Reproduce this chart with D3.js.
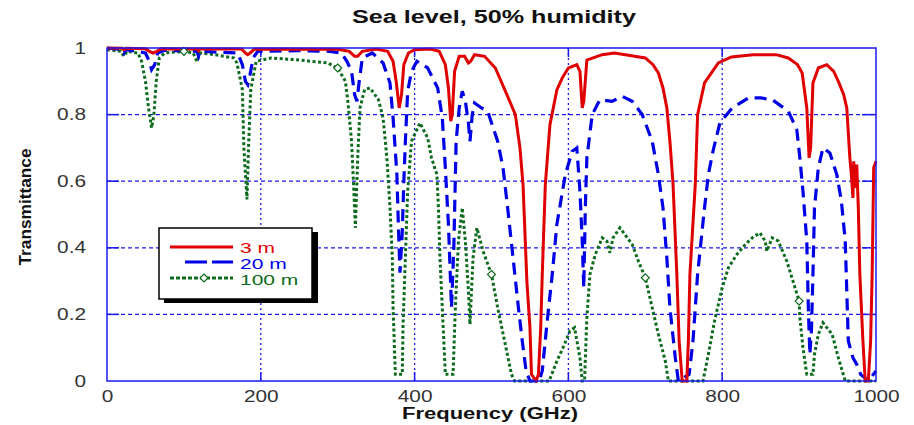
<!DOCTYPE html>
<html>
<head>
<meta charset="utf-8">
<script src="https://cdn.jsdelivr.net/npm/d3@7"></script>
<style>
  body { margin: 0; background: #fff; }
  text { font-family: "Liberation Sans", Arial, sans-serif; }
</style>
</head>
<body>
<svg id="chart" width="914" height="425"></svg>
<script>
// Atmospheric transmittance vs frequency, [GHz, transmittance] per path length
const path3m = [
  [0,1.0],[20,0.999],[22,0.995],[25,0.999],[50,0.998],[55,0.99],[60,0.985],[65,0.99],[70,0.998],
  [118,0.997],[119,0.992],[121,0.997],[175,0.997],[180,0.985],[183,0.98],[186,0.985],[192,0.997],
  [300,0.996],[315,0.99],[322,0.975],[326,0.975],[332,0.99],[350,0.997],[365,0.99],[372,0.96],
  [376,0.9],[380,0.82],[383,0.86],[386,0.95],[392,0.985],[400,0.995],[420,0.997],[432,0.99],
  [440,0.95],[444,0.88],[447,0.78],[449,0.8],[452,0.93],[458,0.975],[465,0.975],[470,0.955],
  [473,0.96],[478,0.98],[491,0.975],[505,0.94],[520,0.86],[531,0.80],[537,0.70],[541,0.59],
  [546,0.30],[550,0.16],[552,0.02],[558,0.0],[561,0.02],[564,0.16],[566,0.32],[570,0.59],
  [576,0.77],[585,0.874],[592,0.91],[600,0.94],[611,0.95],[615,0.93],[618,0.82],[620,0.84],
  [624,0.964],[644,0.98],[660,0.985],[700,0.97],[710,0.95],[717,0.925],[723,0.88],[728,0.82],
  [732,0.72],[736,0.595],[741,0.32],[744,0.12],[748,0.0],[754,0.0],[756,0.12],[758,0.32],
  [765,0.59],[768,0.80],[777,0.895],[795,0.955],[812,0.973],[840,0.98],[870,0.98],[886,0.97],
  [898,0.95],[904,0.925],[910,0.82],[913,0.67],[915,0.70],[918,0.895],[925,0.94],[936,0.95],
  [945,0.93],[951,0.90],[958,0.86],[962,0.82],[966,0.67],[968,0.62],[970,0.55],[971,0.66],
  [973,0.58],[975,0.65],[977,0.52],[979,0.32],[983,0.12],[986,0.0],[990,0.0],[993,0.12],
  [995,0.32],[997,0.64],[1000,0.66]
];

const path20m = [
  [0,1.0],[20,0.995],[22,0.985],[25,0.995],[50,0.985],[55,0.96],[58,0.935],[62,0.95],[66,0.985],
  [75,0.993],[117,0.99],[119,0.975],[121,0.99],[170,0.985],[176,0.95],[180,0.9],[183,0.89],
  [186,0.92],[190,0.97],[196,0.99],[250,0.992],[290,0.99],[305,0.985],[312,0.96],[318,0.93],
  [322,0.86],[325,0.84],[328,0.9],[332,0.97],[345,0.985],[359,0.955],[368,0.895],[372,0.79],
  [377,0.62],[379,0.46],[381,0.325],[384,0.45],[386,0.6],[388,0.72],[391,0.87],[396,0.93],
  [403,0.96],[417,0.94],[430,0.88],[436,0.79],[440,0.64],[444,0.47],[448,0.22],[451,0.4],
  [454,0.72],[458,0.82],[462,0.87],[466,0.84],[470,0.775],[472,0.72],[475,0.8],[478,0.835],
  [487,0.82],[495,0.81],[508,0.72],[515,0.64],[521,0.52],[528,0.37],[535,0.22],[540,0.12],
  [545,0.03],[550,0.0],[562,0.0],[566,0.03],[572,0.17],[579,0.32],[585,0.47],[596,0.62],
  [605,0.69],[611,0.70],[615,0.57],[618,0.42],[620,0.28],[622,0.52],[624,0.67],[631,0.80],
  [641,0.845],[657,0.84],[670,0.855],[683,0.84],[696,0.80],[709,0.72],[717,0.62],[723,0.52],
  [728,0.37],[732,0.22],[739,0.07],[743,0.0],[757,0.02],[762,0.12],[768,0.32],[777,0.52],
  [782,0.62],[788,0.69],[797,0.775],[813,0.82],[834,0.85],[850,0.85],[865,0.845],[886,0.81],
  [897,0.755],[901,0.67],[905,0.57],[910,0.42],[912,0.22],[914,0.08],[916,0.15],[918,0.32],
  [920,0.52],[925,0.64],[931,0.70],[940,0.685],[949,0.62],[955,0.54],[960,0.42],[962,0.27],
  [964,0.12],[970,0.07],[975,0.05],[980,0.02],[990,0.0],[1000,0.03]
];

const path100m = [
  [0,0.995],[18,0.99],[22,0.975],[26,0.99],[40,0.985],[45,0.96],[50,0.9],[54,0.82],[58,0.76],
  [61,0.8],[64,0.9],[68,0.97],[75,0.985],[100,0.99],[112,0.985],[117,0.96],[121,0.985],
  [140,0.98],[165,0.97],[169,0.955],[176,0.875],[178,0.70],[182,0.545],[184,0.7],[187,0.875],
  [194,0.96],[213,0.97],[250,0.964],[266,0.96],[287,0.955],[300,0.94],[310,0.90],[313,0.845],
  [318,0.72],[321,0.57],[323,0.46],[326,0.67],[329,0.82],[335,0.875],[342,0.88],[353,0.845],
  [359,0.79],[364,0.67],[368,0.52],[371,0.37],[372,0.22],[375,0.02],[384,0.02],[385,0.17],
  [388,0.37],[391,0.57],[396,0.72],[407,0.775],[417,0.73],[422,0.67],[429,0.62],[431,0.52],
  [433,0.37],[436,0.22],[440,0.02],[450,0.02],[453,0.22],[457,0.42],[462,0.52],[466,0.42],
  [470,0.27],[472,0.17],[476,0.37],[481,0.46],[489,0.39],[500,0.32],[508,0.22],[517,0.12],
  [526,0.02],[530,0.0],[575,0.0],[585,0.06],[593,0.10],[602,0.15],[608,0.16],[615,0.07],
  [618,0.0],[621,0.0],[624,0.19],[628,0.32],[635,0.38],[644,0.43],[650,0.42],[654,0.385],
  [658,0.43],[667,0.46],[683,0.41],[691,0.36],[700,0.31],[709,0.22],[717,0.14],[726,0.06],
  [730,0.0],[775,0.0],[782,0.08],[790,0.18],[800,0.28],[808,0.34],[819,0.38],[830,0.41],
  [839,0.43],[849,0.445],[856,0.42],[858,0.39],[865,0.43],[873,0.42],[884,0.36],[892,0.30],
  [900,0.24],[901,0.19],[905,0.10],[910,0.02],[918,0.02],[920,0.08],[925,0.14],[931,0.175],
  [943,0.14],[951,0.07],[960,0.0],[1000,0.0]
];

// Symbol positions along the 100 m trace
const markerFreqs = [100, 300, 500, 700, 900];
const markerValues = [0.99, 0.94, 0.32, 0.31, 0.24];

const freqTicks = [0, 200, 400, 600, 800, 1000];
const transTicks = [0, 0.2, 0.4, 0.6, 0.8, 1];
const seriesNames = ["3 m", "20 m", "100 m"];

const RED = "#e00000", BLUE = "#0000e6", GREEN = "#0d6b1d", FRAME = "#1a1aee";

const svg = d3.select("#chart");
const x = d3.scaleLinear().domain([0, 1000]).range([107, 876]);
const y = d3.scaleLinear().domain([0, 1]).range([381, 48]);
const [x0, x1] = x.range();
const [y0, y1] = y.range();

// stretch text horizontally to the wide lettering of the chart
function widen(sel, k) {
  sel.each(function () {
    const w = this.getComputedTextLength();
    this.setAttribute("textLength", w * k);
    this.setAttribute("lengthAdjust", "spacingAndGlyphs");
  });
}

// Grid
const grid = svg.append("g");
grid.selectAll("line.h").data(transTicks.filter(d => d > 0 && d < 1)).join("line")
  .attr("x1", x0).attr("x2", x1).attr("y1", d => y(d)).attr("y2", d => y(d))
  .attr("stroke", FRAME).attr("stroke-width", 1.3).attr("stroke-dasharray", "4,3");
grid.selectAll("line.v").data(freqTicks.filter(d => d > 0 && d < 1000)).join("line")
  .attr("y1", y1).attr("y2", y0).attr("x1", d => x(d)).attr("x2", d => x(d))
  .attr("stroke", FRAME).attr("stroke-width", 1.3).attr("stroke-dasharray", "2,3");

// Inward tick marks on all four sides
const ticks = svg.append("g").attr("stroke", FRAME).attr("stroke-width", 1.5);
transTicks.filter(d => d > 0 && d < 1).forEach(d => {
  ticks.append("line").attr("x1", x0).attr("x2", x0 + 12).attr("y1", y(d)).attr("y2", y(d));
  ticks.append("line").attr("x1", x1 - 14).attr("x2", x1).attr("y1", y(d)).attr("y2", y(d));
});
freqTicks.filter(d => d > 0 && d < 1000).forEach(d => {
  ticks.append("line").attr("x1", x(d)).attr("x2", x(d)).attr("y1", y0).attr("y2", y0 - 9);
  ticks.append("line").attr("x1", x(d)).attr("x2", x(d)).attr("y1", y1).attr("y2", y1 + 9);
});

// Curves
svg.append("clipPath").attr("id", "plotClip").append("rect")
  .attr("x", x0 - 2).attr("y", y1 - 3).attr("width", x1 - x0 + 4).attr("height", y0 - y1 + 5);
const plot = svg.append("g").attr("clip-path", "url(#plotClip)");
const line = d3.line().x(d => x(d[0])).y(d => y(d[1]));

plot.append("path").datum(path100m).attr("d", line).attr("fill", "none")
  .attr("stroke", GREEN).attr("stroke-width", 3).attr("stroke-dasharray", "3,2.5");
plot.append("path").datum(path20m).attr("d", line).attr("fill", "none")
  .attr("stroke", BLUE).attr("stroke-width", 3.2).attr("stroke-dasharray", "12,7");
plot.append("path").datum(path3m).attr("d", line).attr("fill", "none")
  .attr("stroke", RED).attr("stroke-width", 3);

const diamond = d3.symbol().type(d3.symbolDiamond2).size(40);
plot.selectAll("path.mk").data(markerFreqs).join("path")
  .attr("d", diamond)
  .attr("transform", (d, i) => `translate(${x(d)},${y(markerValues[i])})`)
  .attr("fill", "#fff").attr("stroke", GREEN).attr("stroke-width", 1.2);

// Frame
svg.append("rect").attr("x", x0).attr("y", y1).attr("width", x1 - x0).attr("height", y0 - y1)
  .attr("fill", "none").attr("stroke", FRAME).attr("stroke-width", 1.5);

// Axes (labels only)
const xAxis = svg.append("g").attr("transform", `translate(0,${y0})`)
  .call(d3.axisBottom(x).tickValues(freqTicks).tickFormat(d => String(d)).tickSize(0).tickPadding(10));
const yAxis = svg.append("g").attr("transform", `translate(${x0},0)`)
  .call(d3.axisLeft(y).tickValues(transTicks).tickFormat(d3.format("~g")).tickSize(0).tickPadding(21));
[xAxis, yAxis].forEach(a => {
  a.select(".domain").remove();
  a.selectAll("text").attr("font-size", 16).attr("fill", "#333")
    .attr("font-family", '"Liberation Sans", Arial, sans-serif');
  widen(a.selectAll("text"), 1.3);
});

// Titles
svg.append("text").attr("x", 494).attr("y", 23).attr("text-anchor", "middle")
  .attr("font-size", 18).attr("font-weight", "bold").attr("fill", "#111")
  .attr("textLength", 284).attr("lengthAdjust", "spacingAndGlyphs")
  .text("Sea level, 50% humidity");

svg.append("text").attr("x", 490).attr("y", 419).attr("text-anchor", "middle")
  .attr("font-size", 16).attr("font-weight", "bold").attr("fill", "#111")
  .attr("textLength", 176).attr("lengthAdjust", "spacingAndGlyphs")
  .text("Frequency (GHz)");

svg.append("text").attr("transform", "translate(31,207) rotate(-90)")
  .attr("text-anchor", "middle").attr("font-size", 17).attr("font-weight", "bold").attr("fill", "#111")
  .attr("textLength", 117).attr("lengthAdjust", "spacingAndGlyphs")
  .text("Transmittance");

// Legend
const lg = svg.append("g");
lg.append("rect").attr("x", 164).attr("y", 232).attr("width", 154).attr("height", 71).attr("fill", "#000");
lg.append("rect").attr("x", 159).attr("y", 228).attr("width", 153).attr("height", 71)
  .attr("fill", "#fff").attr("stroke", "#000").attr("stroke-width", 1.5);
const legendItems = [
  { name: seriesNames[0], color: RED, dash: null, lx: 170, ly: 247, ty: 253 },
  { name: seriesNames[1], color: BLUE, dash: "22,5", lx: 185, ly: 262, ty: 269 },
  { name: seriesNames[2], color: GREEN, dash: "4,2", lx: 170, ly: 278, ty: 285 }
];
legendItems.forEach(it => {
  const l = lg.append("line").attr("x1", it.lx).attr("x2", 233).attr("y1", it.ly).attr("y2", it.ly)
    .attr("stroke", it.color).attr("stroke-width", 3);
  if (it.dash) l.attr("stroke-dasharray", it.dash);
  const t = lg.append("text").attr("x", 240).attr("y", it.ty).attr("font-size", 14)
    .attr("fill", it.color).text(it.name);
  widen(t, 1.5);
});
lg.append("path").attr("d", diamond).attr("transform", "translate(204,278)")
  .attr("fill", "#fff").attr("stroke", GREEN).attr("stroke-width", 1.2);
</script>
</body>
</html>
